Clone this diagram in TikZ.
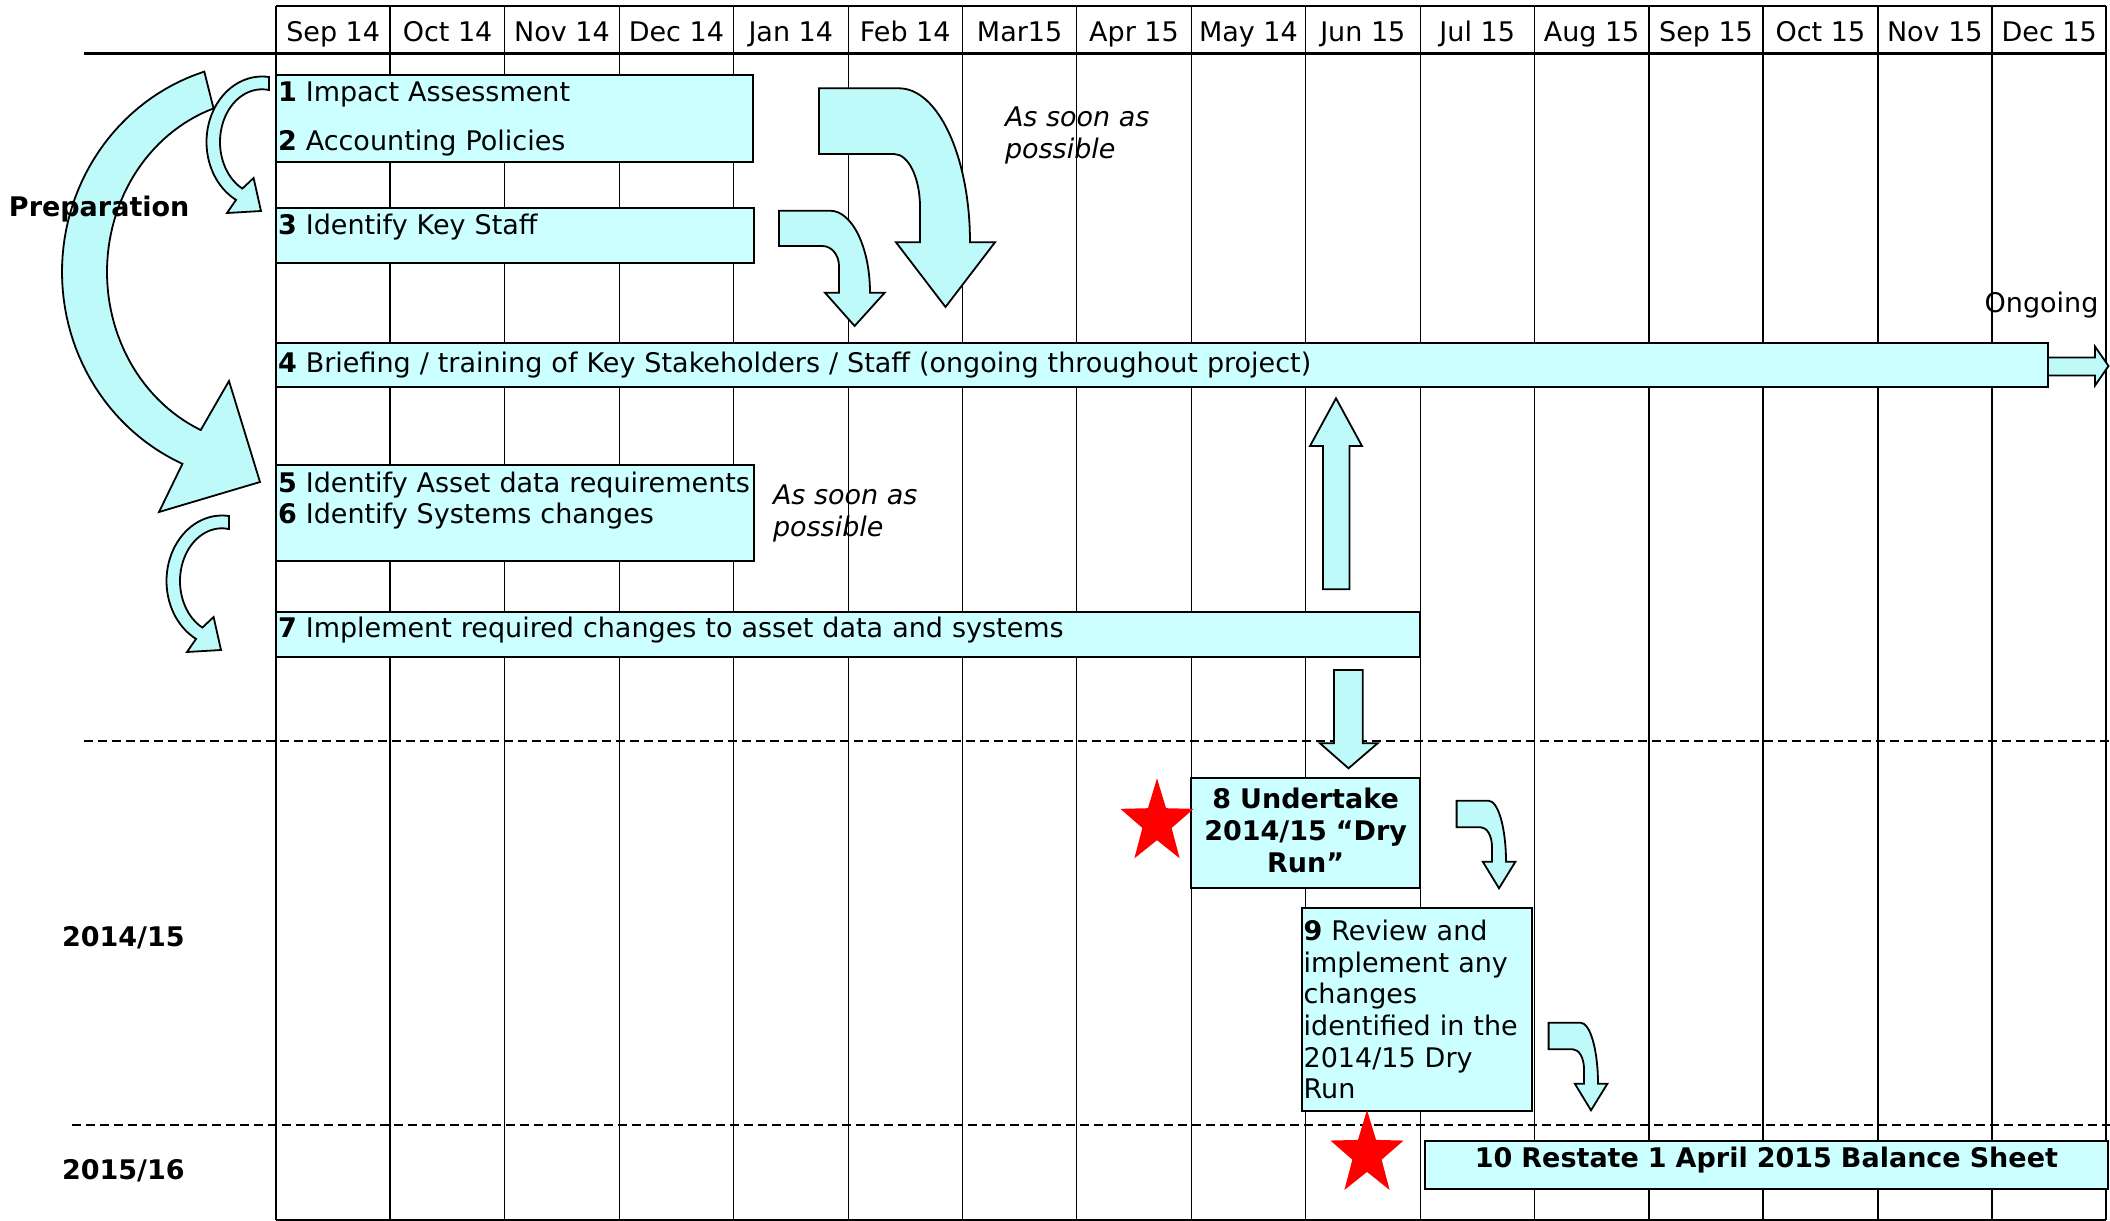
\documentclass[tikz,border=0pt]{standalone}
\usepackage{fontspec}
\setmainfont{DejaVu Sans}
\usetikzlibrary{shapes.geometric}
\definecolor{taskfill}{RGB}{204,255,255}
\definecolor{arrowfill}{RGB}{190,250,250}
\tikzset{
    base/.style = {font=\fontsize{13.5pt}{15.85pt}\selectfont, inner sep=0pt, outer sep=0pt},
    % Grid
    gridline/.style  = {line width=0.5pt},
    gridthick/.style = {line width=1pt},
    yearline/.style  = {line width=1pt, dash pattern=on 4.5pt off 2.5pt},
    month/.style     = {base, anchor=base},
    % Tasks
    task/.style      = {base, rectangle, draw=black, line width=1pt, fill=taskfill,
                        anchor=north west, inner xsep=1pt, align=left},
    milestone/.style = {task, align=center, font=\fontsize{13.5pt}{15.85pt}\selectfont\bfseries},
    % Annotations
    phase/.style = {base, anchor=base west, font=\fontsize{13.5pt}{15.85pt}\selectfont\bfseries},
    note/.style  = {base, anchor=west, align=left, font=\fontsize{13.5pt}{15.85pt}\selectfont\itshape},
    % Block arrows and stars
    blockarrow/.style = {draw=black, line width=0.9pt, fill=arrowfill, line join=miter},
    redstar/.style    = {star, star points=5, star point ratio=2.5, fill=red, draw=none,
                         minimum size=44.2pt, inner sep=0pt, transform shape}
}

\begin{document}
\begin{tikzpicture}[x=0.5pt, y=-0.5pt]
    \useasboundingbox (0,0) rectangle (2110,1221);

    % month grid
    \foreach \i in {2,3,4,5,6,7,8,9,10,11}
        \draw[gridline] (276+114.4*\i,6) -- (276+114.4*\i,1220);
    \foreach \i in {0,1,12,13,14,15,16}
        \draw[gridthick] (276+114.4*\i,6) -- (276+114.4*\i,1220);
    \draw[gridthick] (276,6) -- (2106.4,6);
    \draw[gridthick] (276,1220) -- (2106.4,1220);
    \draw[line width=1.2pt] (84,53.3) -- (2106.4,53.3);
    \foreach \m [count=\i from 0] in {Sep 14,Oct 14,Nov 14,Dec 14,Jan 14,Feb 14,Mar15,Apr 15,
                                      May 14,Jun 15,Jul 15,Aug 15,Sep 15,Oct 15,Nov 15,Dec 15}
        \node[month] (m\i) at (333.2+114.4*\i,41.6) {\m};

    % year boundaries
    \draw[yearline] (84,740.7) -- (2110,740.7);
    \draw[yearline] (72,1124.5) -- (2110,1124.5);

    % tasks
    \node[task, text width=236.3pt, minimum height=43.8pt] (t12) at (276,74.7)
        {\textbf{1} Impact Assessment\\[8.65pt]\textbf{2} Accounting Policies};
    \node[task, text width=236.8pt, minimum height=27.5pt] (t3) at (276,208.3)
        {\textbf{3} Identify Key Staff\rule[-11.5pt]{0pt}{0pt}};
    \node[task, text width=884pt, minimum height=21.7pt] (t4) at (276,343.3)
        {\textbf{4} Briefing / training of Key Stakeholders / Staff (ongoing throughout project)};
    \node[task, text width=236.8pt, minimum height=48pt] (t56) at (276,465)
        {\textbf{5} Identify Asset data requirements\\\textbf{6} Identify Systems changes\rule[-15.2pt]{0pt}{0pt}};
    \node[task, text width=570pt, minimum height=22.8pt] (t7) at (276,611.7)
        {\textbf{7} Implement required changes to asset data and systems\rule[-7.7pt]{0pt}{0pt}};
    \node[milestone, text width=112.4pt, minimum height=55pt] (t8) at (1191.2,778.3)
        {8 Undertake\\2014/15 “Dry\\Run”\rule[-3pt]{0pt}{0pt}};
    \node[task, text width=113.4pt, minimum height=101.2pt] (t9) at (1301.6,908.3)
        {\textbf{9} Review and\\implement any\\changes\\identified in the\\2014/15 Dry\\Run};
    \node[milestone, text width=339.6pt, minimum height=24.3pt] (t10) at (1424.8,1140.7)
        {10 Restate 1 April 2015 Balance Sheet\rule[-8.2pt]{0pt}{0pt}};

    % key dates
    \begin{scope}[shift={(1157,822.5)}, xscale=0.87]
        \node[redstar] (star8) {};
    \end{scope}
    \begin{scope}[shift={(1367,1154.2)}, xscale=0.87]
        \node[redstar] (star10) {};
    \end{scope}

    % circular arrows on the left
    \draw[blockarrow] plot[domain=252.6:114, samples=60] ({265+203*cos(\x)},{272+210*sin(\x)})
        -- (159,512) -- (260,482) -- (229,381)
        -- plot[domain=114:251, samples=60] ({265+158*cos(\x)},{272+173*sin(\x)}) -- cycle;
    \foreach \dx/\dy in {0/0,-40/439}
        \draw[blockarrow, shift={(\dx,\dy)}]
            plot[domain=277.2:117.9, samples=40] ({262+55.5*cos(\x)},{142+65.5*sin(\x)})
            -- (227,213) -- (261,211) -- (253.6,178)
            -- plot[domain=117.9:279.6, samples=40] ({262+42*cos(\x)},{142+52.7*sin(\x)}) -- cycle;

    % bent arrows
    \draw[blockarrow] (819,88.3) -- (899,88.3)
        .. controls (938.2,88.3) and (970,157.2) .. (970,242.3)
        -- (995,242.3) -- (945.5,307) -- (896,242.3) -- (920,242.3) -- (920,207)
        .. controls (920,177.7) and (908.4,154) .. (894,154) -- (819,154) -- cycle;
    \draw[blockarrow] (779,210.7) -- (830,210.7)
        .. controls (852.1,210.7) and (870,247.4) .. (870,292.7)
        -- (884.7,292.7) -- (854.6,326) -- (825,292.7) -- (839,292.7) -- (839,266)
        .. controls (839,255) and (831.6,246) .. (822.4,246) -- (779,246) -- cycle;
    \foreach \dx/\dy in {0/0,92/222}
        \draw[blockarrow, shift={(\dx,\dy)}] (1456.6,800.7) -- (1488.5,800.7)
            .. controls (1498.2,800.7) and (1506,828) .. (1506,861.7)
            -- (1515.4,861.7) -- (1499,888.3) -- (1482.8,861.7) -- (1492,861.7) -- (1492,847)
            .. controls (1492,836.1) and (1487.1,827.3) .. (1481,827.3) -- (1456.6,827.3) -- cycle;

    % straight arrows
    \draw[blockarrow] (2048,357.5) -- (2095,357.5) -- (2095,346.5) -- (2108.5,366)
        -- (2095,385.5) -- (2095,375.5) -- (2048,375.5) -- cycle;
    \draw[blockarrow] (1323,589.3) -- (1323,446) -- (1310,446) -- (1336,398.3)
        -- (1362,446) -- (1349.5,446) -- (1349.5,589.3) -- cycle;
    \draw[blockarrow] (1334,670) -- (1334,743.3) -- (1320,743.3) -- (1348.5,768.3)
        -- (1377.6,743.3) -- (1362.8,743.3) -- (1362.8,670) -- cycle;

    % phases and notes
    \node[phase] (prep) at (9,216.6) {Preparation};
    \node[phase] (fy1415) at (62,946.6) {2014/15};
    \node[phase] (fy1516) at (62,1179.2) {2015/16};
    \node[note] (asap1) at (1005,135.4) {As soon as\\possible};
    \node[note] (asap2) at (773,513.7) {As soon as\\possible};
    \node[base, anchor=base] (ongoing) at (2041.5,312.9) {Ongoing};
\end{tikzpicture}
\end{document}
